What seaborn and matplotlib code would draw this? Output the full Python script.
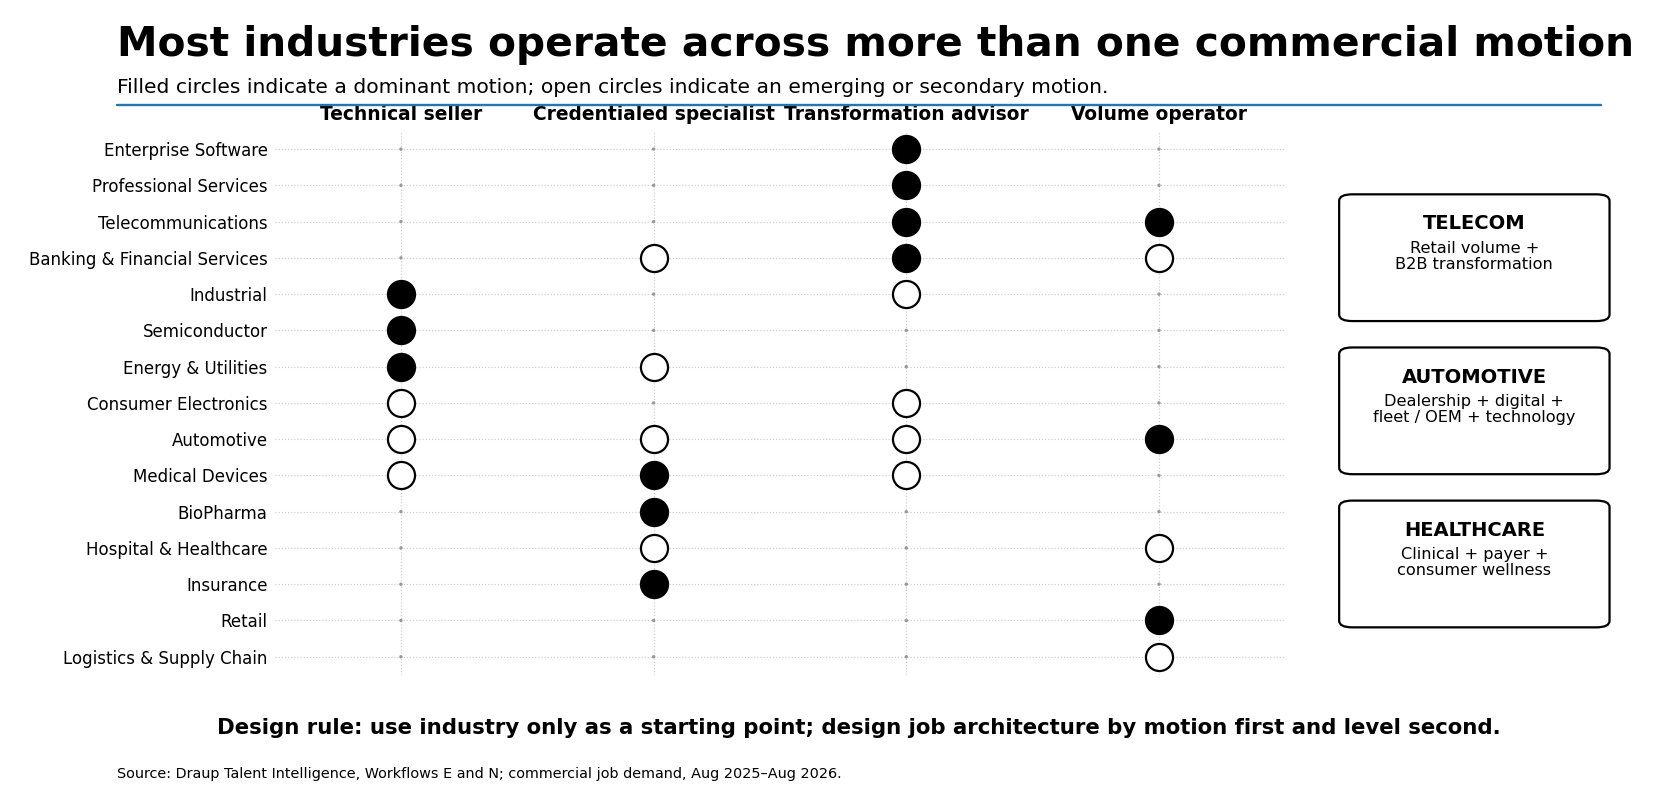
import numpy as np
import pandas as pd
import matplotlib
matplotlib.use("Agg")
import matplotlib.pyplot as plt
import seaborn as sns
from matplotlib.patches import FancyBboxPatch

# rows (top to bottom) and columns
industries = [
    "Enterprise Software", "Professional Services", "Telecommunications",
    "Banking & Financial Services", "Industrial", "Semiconductor",
    "Energy & Utilities", "Consumer Electronics", "Automotive",
    "Medical Devices", "BioPharma", "Hospital & Healthcare", "Insurance",
    "Retail", "Logistics & Supply Chain",
]
motions = ["Technical seller", "Credentialed specialist",
           "Transformation advisor", "Volume operator"]

# 2 = dominant (filled), 1 = emerging / secondary (open), 0 = none
technical_seller =        [0, 0, 0, 0, 2, 2, 2, 1, 1, 1, 0, 0, 0, 0, 0]
credentialed_specialist = [0, 0, 0, 1, 0, 0, 1, 0, 1, 2, 2, 1, 2, 0, 0]
transformation_advisor =  [2, 2, 2, 2, 1, 0, 0, 1, 1, 1, 0, 0, 0, 0, 0]
volume_operator =         [0, 0, 2, 1, 0, 0, 0, 0, 2, 0, 0, 1, 0, 2, 1]

callout_titles = ["TELECOM", "AUTOMOTIVE", "HEALTHCARE"]
callout_texts = ["Retail volume +\nB2B transformation",
                 "Dealership + digital +\nfleet / OEM + technology",
                 "Clinical + payer +\nconsumer wellness"]

title = "Most industries operate across more than one commercial motion"
subtitle = ("Filled circles indicate a dominant motion; open circles indicate "
            "an emerging or secondary motion.")
design_rule = ("Design rule: use industry only as a starting point; design job "
               "architecture by motion first and level second.")
source = ("Source: Draup Talent Intelligence, Workflows E and N; commercial "
          "job demand, Aug 2025\u2013Aug 2026.")

cols = [technical_seller, credentialed_specialist, transformation_advisor, volume_operator]
rows = []
for m, vals in zip(motions, cols):
    for ind, v in zip(industries, vals):
        rows.append({"motion": m, "industry": ind, "level": v})
df = pd.DataFrame(rows)
df["x"] = df["motion"].map({m: i for i, m in enumerate(motions)})
df["y"] = df["industry"].map({n: i for i, n in enumerate(industries)})

sns.set_theme(style="white")
plt.rcParams["font.family"] = ["DejaVu Sans"]
plt.rcParams["text.color"] = "black"
plt.rcParams["xtick.color"] = "black"
plt.rcParams["ytick.color"] = "black"

# layout measured on a 1568 x 766 view of the page
W, H = 1568, 766

fig = plt.figure(figsize=(16.56, 8.09), dpi=100)
ax = fig.add_axes([260 / W, 1 - 639 / H, (1217 - 260) / W, (639 - 124) / H])

sns.scatterplot(data=df[df["level"] == 0], x="x", y="y", ax=ax, s=6,
                color="#999999", edgecolor="none", legend=False, zorder=2)
sns.scatterplot(data=df[df["level"] == 1], x="x", y="y", ax=ax, s=380,
                facecolor="white", edgecolor="black", linewidth=1.6,
                legend=False, zorder=3)
sns.scatterplot(data=df[df["level"] == 2], x="x", y="y", ax=ax, s=380,
                color="black", edgecolor="black", linewidth=1.6,
                legend=False, zorder=3)

ax.set_xlim(-0.5, 3.5)
ax.set_ylim(14.5, -0.5)
ax.set_xticks(range(len(motions)))
ax.set_xticklabels(motions, fontsize=13.4, fontweight="bold")
ax.xaxis.tick_top()
ax.set_yticks(range(len(industries)))
ax.set_yticklabels(industries, fontsize=12)
ax.tick_params(length=0, pad=5)
ax.tick_params(axis="x", pad=5)
ax.set_xlabel("")
ax.set_ylabel("")
ax.grid(True, linestyle=":", color="#cccccc", linewidth=0.85)
ax.set_axisbelow(True)
for sp in ax.spines.values():
    sp.set_visible(False)

fig.text(111 / W, 1 - 43 / H, title, fontsize=29.3, fontweight="bold",
         va="center", ha="left")
fig.text(111 / W, 1 - 83 / H, subtitle, fontsize=14.6, va="center", ha="left")
fig.add_artist(plt.Line2D([111 / W, 1516 / W], [1 - 99 / H, 1 - 99 / H],
                          color="#1f77b4", linewidth=1.7))

box_tops = [184, 329, 474]
for t, body, top in zip(callout_titles, callout_texts, box_tops):
    x0, x1 = 1268 / W, 1524 / W
    y1, y0 = 1 - top / H, 1 - (top + 120) / H
    box = FancyBboxPatch((x0, y0), x1 - x0, y1 - y0,
                         boxstyle="round,pad=0,rounding_size=0.008",
                         transform=fig.transFigure, facecolor="white",
                         edgecolor="black", linewidth=1.6)
    fig.add_artist(box)
    cx = (x0 + x1) / 2
    fig.text(cx, 1 - (top + 28) / H, t, fontsize=14, fontweight="bold",
             ha="center", va="center")
    fig.text(cx, 1 - (top + 44) / H, body, fontsize=11.6, ha="center",
             va="top", linespacing=1.1)

fig.text(813 / W, 1 - 689 / H, design_rule, fontsize=15.3,
         fontweight="bold", ha="center", va="center")
fig.text(111 / W, 1 - 733 / H, source, fontsize=10.4, ha="left", va="center")

fig.savefig("out.png", dpi=100)
